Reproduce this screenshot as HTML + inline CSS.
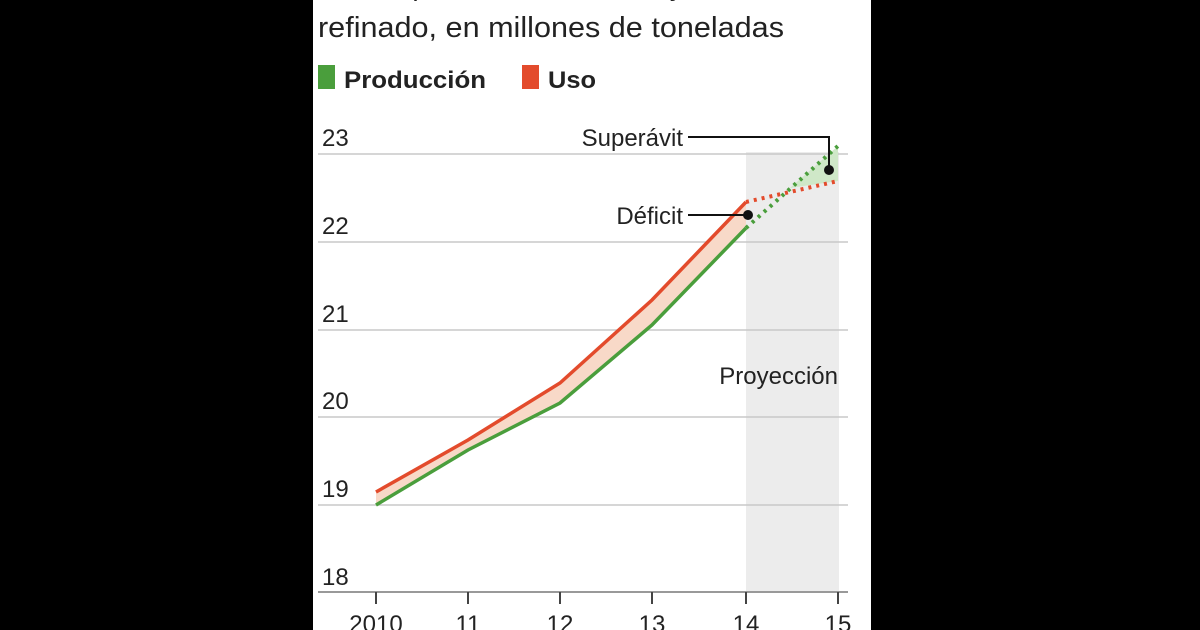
<!DOCTYPE html>
<html><head><style>
body{margin:0;background:#000;width:1200px;height:630px;overflow:hidden}
svg{display:block}
text{font-family:"Liberation Sans",sans-serif;fill:#222}
</style></head><body>
<svg width="1200" height="630" viewBox="0 0 1200 630">
<rect x="0" y="0" width="1200" height="630" fill="#000"/>
<rect x="313" y="0" width="558" height="630" fill="#fff"/>
<text x="318" y="-5" font-size="28" textLength="540">Cobre, producción mundial y uso de cobre</text>
<text x="318" y="37" font-size="29" textLength="466" lengthAdjust="spacingAndGlyphs">refinado, en millones de toneladas</text>
<rect x="318" y="65" width="17" height="24" fill="#4a9e3c"/>
<text x="344" y="88" font-size="24" font-weight="bold" textLength="142" lengthAdjust="spacingAndGlyphs">Producción</text>
<rect x="522" y="65" width="17" height="24" fill="#e34b2c"/>
<text x="548" y="88" font-size="24" font-weight="bold" textLength="48" lengthAdjust="spacingAndGlyphs">Uso</text>
<rect x="746" y="152" width="93" height="440" fill="#ececec"/>
<g stroke="#c8c8c8" stroke-width="1.5">
<line x1="318" y1="154" x2="848" y2="154"/>
<line x1="318" y1="242" x2="848" y2="242"/>
<line x1="318" y1="330" x2="848" y2="330"/>
<line x1="318" y1="417" x2="848" y2="417"/>
<line x1="318" y1="505" x2="848" y2="505"/>
</g>
<line x1="318" y1="592" x2="848" y2="592" stroke="#999" stroke-width="2"/>
<g stroke="#444" stroke-width="2">
<line x1="376" y1="592" x2="376" y2="604"/><line x1="468" y1="592" x2="468" y2="604"/>
<line x1="560" y1="592" x2="560" y2="604"/><line x1="652" y1="592" x2="652" y2="604"/>
<line x1="746" y1="592" x2="746" y2="604"/><line x1="838" y1="592" x2="838" y2="604"/>
</g>
<g font-size="24">
<text x="322" y="146">23</text><text x="322" y="234">22</text><text x="322" y="322">21</text>
<text x="322" y="409">20</text><text x="322" y="497">19</text><text x="322" y="585">18</text>
<text x="376" y="632" text-anchor="middle">2010</text><text x="468" y="632" text-anchor="middle">11</text>
<text x="560" y="632" text-anchor="middle">12</text><text x="652" y="632" text-anchor="middle">13</text>
<text x="746" y="632" text-anchor="middle">14</text><text x="838" y="632" text-anchor="middle">15</text>
<text x="838" y="384" text-anchor="end">Proyección</text>
<text x="683" y="146" text-anchor="end">Superávit</text>
<text x="683" y="224" text-anchor="end">Déficit</text>
</g>
<polygon points="376,492 468,440 560,383 652,300 746,202 746,228 652,325 560,403 468,450 376,505" fill="#f8d9c8"/>
<polygon points="790,188 838,146 838,181" fill="#cfe8c8"/>
<polyline points="376,505 468,450 560,403 652,325 746,228" fill="none" stroke="#4a9e3c" stroke-width="3.5"/>
<polyline points="376,492 468,440 560,383 652,300 746,202" fill="none" stroke="#e34b2c" stroke-width="3.5"/>
<line x1="746" y1="202" x2="838" y2="181" stroke="#e34b2c" stroke-width="4" stroke-dasharray="3,5"/>
<line x1="746" y1="228" x2="838" y2="146" stroke="#4a9e3c" stroke-width="4" stroke-dasharray="3,5"/>
<g stroke="#111" stroke-width="2" fill="none">
<polyline points="688,137 829,137 829,170"/>
<line x1="688" y1="215" x2="748" y2="215"/>
</g>
<circle cx="748" cy="215" r="5" fill="#111"/>
<circle cx="829" cy="170" r="5" fill="#111"/>
</svg>
</body></html>
